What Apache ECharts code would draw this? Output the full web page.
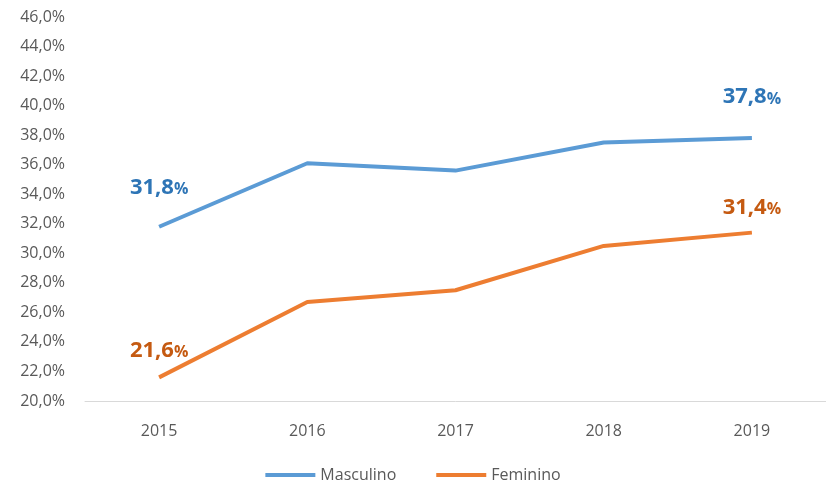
<!DOCTYPE html>
<html>
<head>
<meta charset="utf-8">
<script src="https://cdn.jsdelivr.net/npm/echarts@6/dist/echarts.min.js"></script>
<style>
  html, body { margin: 0; padding: 0; background: #fff; }
  #chart { width: 826px; height: 494px; }
</style>
</head>
<body>
<div id="chart"></div>
<script>
// dados do gráfico
const anos = ['2015', '2016', '2017', '2018', '2019']
const masculino = [31.8, 36.1, 35.6, 37.5, 37.8]
const feminino = [21.6, 26.7, 27.5, 30.5, 31.4]
const yMin = 20
const yMax = 46
const yStep = 2

const fmt = v => v.toFixed(1).replace('.', ',')

// rótulo só no primeiro e no último ponto
function pontos(valores, cor, distancias) {
  return valores.map((v, i) => {
    if (i !== 0 && i !== valores.length - 1) return v
    return {
      value: v,
      label: {
        show: true,
        position: 'top',
        distance: distancias[i === 0 ? 0 : 1],
        formatter: '{n|' + fmt(v) + '}{p|%}',
        rich: {
          n: { color: cor, fontSize: 22, fontWeight: 'bold', fontFamily: 'Open Sans' },
          p: { color: cor, fontSize: 16, fontWeight: 'bold', fontFamily: 'Open Sans', padding: [4, 0, 0, 0] }
        }
      }
    }
  })
}

const chart = echarts.init(document.getElementById('chart'))
chart.setOption({
  backgroundColor: '#fff',
  animation: false,
  grid: { left: 85, top: 17, width: 750, bottom: 93 },
  legend: {
    bottom: 6,
    left: 'center',
    icon: 'rect',
    itemWidth: 50,
    itemHeight: 4,
    itemGap: 40,
    textStyle: { color: '#595959', fontSize: 16, fontFamily: 'Open Sans' },
    data: ['Masculino', 'Feminino']
  },
  xAxis: {
    type: 'category',
    data: anos,
    boundaryGap: true,
    axisLine: { lineStyle: { color: '#d9d9d9', width: 1 } },
    axisTick: { show: false },
    axisLabel: { color: '#595959', fontSize: 16, fontFamily: 'Open Sans', margin: 22 }
  },
  yAxis: {
    type: 'value',
    min: yMin,
    max: yMax,
    interval: yStep,
    axisLine: { show: false },
    axisTick: { show: false },
    splitLine: { show: false },
    axisLabel: {
      color: '#595959', fontSize: 16, fontFamily: 'Open Sans', margin: 20,
      formatter: v => fmt(v) + '%'
    }
  },
  series: [
    {
      name: 'Masculino',
      type: 'line',
      data: pontos(masculino, '#2E75B6', [28, 30]),
      showSymbol: true,
      symbol: 'circle',
      symbolSize: 0,
      color: '#5B9BD5',
      lineStyle: { width: 4, color: '#5B9BD5' }
    },
    {
      name: 'Feminino',
      type: 'line',
      data: pontos(feminino, '#C55A11', [16, 14]),
      showSymbol: true,
      symbol: 'circle',
      symbolSize: 0,
      color: '#ED7D31',
      lineStyle: { width: 4, color: '#ED7D31' }
    }
  ]
})
</script>
</body>
</html>
